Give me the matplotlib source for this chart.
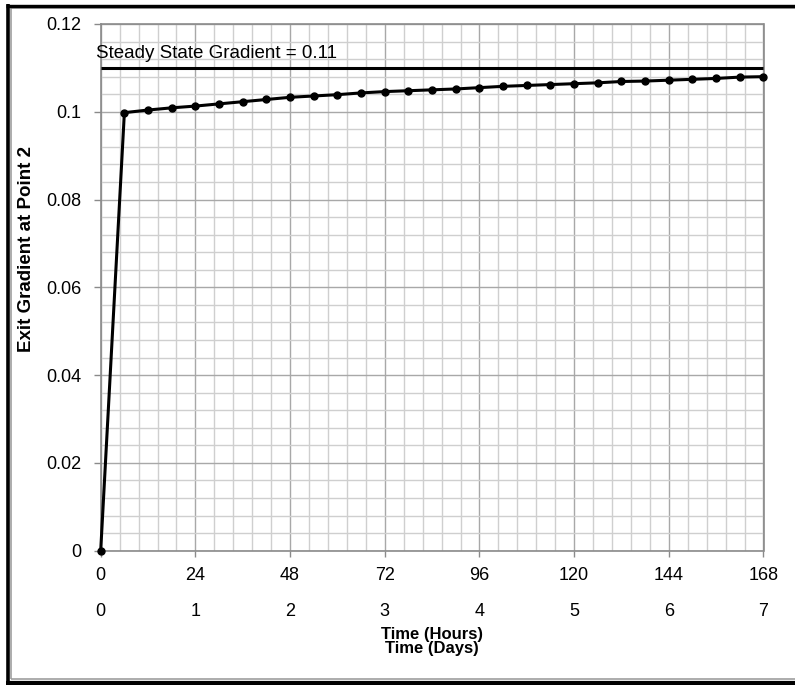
import matplotlib
matplotlib.use("Agg")
import matplotlib.pyplot as plt
from matplotlib.ticker import MultipleLocator, FixedLocator
from matplotlib.lines import Line2D

plt.rcParams['font.family'] = ['Liberation Sans', 'DejaVu Sans']

# Exit gradient at point 2 versus elapsed time
hours = [0, 6, 12, 18, 24, 30, 36, 42, 48, 54, 60, 66, 72, 78, 84,
         90, 96, 102, 108, 114, 120, 126, 132, 138, 144, 150, 156, 162, 168]
gradient = [0.0, 0.0998, 0.1004, 0.1009, 0.1013, 0.1018, 0.1023, 0.1028,
            0.1033, 0.1036, 0.1039, 0.1043, 0.1046, 0.1048, 0.1050, 0.1052,
            0.1055, 0.1058, 0.1060, 0.1062, 0.1064, 0.1066, 0.1069, 0.1070,
            0.1072, 0.1074, 0.1076, 0.1079, 0.1080]
steady_gradient = 0.11
hour_ticks = [0, 24, 48, 72, 96, 120, 144, 168]
day_ticks = [0, 1, 2, 3, 4, 5, 6, 7]
y_ticks = [0, 0.02, 0.04, 0.06, 0.08, 0.1, 0.12]
y_tick_labels = ['0', '0.02', '0.04', '0.06', '0.08', '0.1', '0.12']

W, H = 795, 685
fig = plt.figure(figsize=(W / 100, H / 100), dpi=100)
ax = fig.add_axes([100.7 / W, 1 - 550.7 / H, (763.5 - 100.7) / W, (550.7 - 24) / H])

ax.set_xlim(0, 168)
ax.set_ylim(0, 0.12)

# grid: light minor lines, darker major lines
ax.xaxis.set_major_locator(FixedLocator(hour_ticks))
ax.xaxis.set_minor_locator(MultipleLocator(4.8))
ax.yaxis.set_major_locator(FixedLocator(y_ticks))
ax.yaxis.set_minor_locator(MultipleLocator(0.004))
ax.set_yticklabels(y_tick_labels)
ax.grid(which='minor', color='#cfcfcf', linewidth=1.0)
ax.grid(which='major', color='#a8a8a8', linewidth=1.0)
ax.set_axisbelow(True)

for side in ['left', 'right', 'top', 'bottom']:
    ax.spines[side].set_color('#8a8a8a')
    ax.spines[side].set_linewidth(1.2)

ax.tick_params(which='minor', length=0)
ax.tick_params(which='major', length=4, width=1, color='#8a8a8a',
               labelsize=13, pad=8)
ax.tick_params(axis='y', which='major', length=5, pad=9)

# day scale beneath the hour scale
sec = ax.secondary_xaxis('bottom', functions=(lambda h: h / 24.0, lambda d: d * 24.0))
sec.set_xticks(day_ticks)
sec.tick_params(length=0, labelsize=13, pad=37.5)
sec.spines['bottom'].set_visible(False)

# steady state reference line
ax.plot([0, 168], [steady_gradient, steady_gradient], color='black',
        linewidth=2.2, solid_capstyle='butt', clip_on=False, zorder=3)
ax.text(-1.2, 0.1123, 'Steady State Gradient = %.2f' % steady_gradient,
        fontsize=13.5, ha='left', va='baseline', zorder=4)

# computed gradient
ax.plot(hours, gradient, color='black', linewidth=2.2, marker='o',
        markersize=5, clip_on=False, zorder=5)

fig.text(432 / W, 1 - 635 / H, 'Time (Hours)', fontsize=12, fontweight='bold',
         ha='center', va='center')
fig.text(432 / W, 1 - 649 / H, 'Time (Days)', fontsize=12, fontweight='bold',
         ha='center', va='center')
fig.text(27 / W, 1 - 249 / H, 'Exit Gradient at Point 2', fontsize=13.5,
         fontweight='bold', rotation=90, ha='center', va='center')

# outer chart frame
def fline(x0, y0, x1, y1, color, lw):
    fig.add_artist(Line2D([x0 / W, x1 / W], [1 - y0 / H, 1 - y1 / H],
                          transform=fig.transFigure, color=color,
                          linewidth=lw * 72 / 100, solid_capstyle='butt'))

fline(10.8, 7.8, 10.8, 679, '#9a9a9a', 1.6)
fline(10.8, 7.8, 800, 7.8, '#9a9a9a', 1.6)
fline(10.8, 679, 800, 679, '#9a9a9a', 1.6)
fline(7.5, 4, 7.5, 684, 'black', 3.6)
fline(5.7, 5.5, 800, 5.5, 'black', 3.4)
fline(5.7, 682.5, 800, 682.5, 'black', 4.2)

fig.savefig('out.png', dpi=100)
